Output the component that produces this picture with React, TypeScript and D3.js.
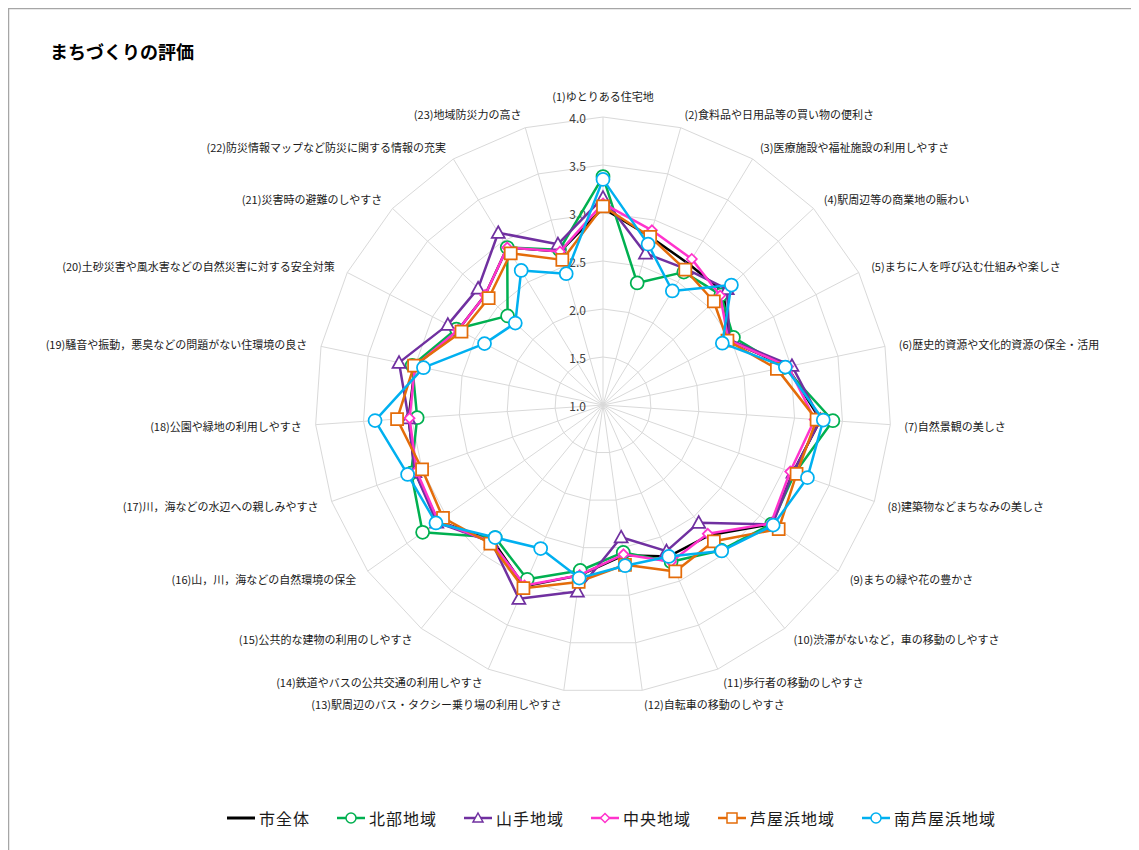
import React from 'react';
import * as d3 from 'd3';

const title = 'まちづくりの評価';

const categories = [
  '(1)ゆとりある住宅地',
  '(2)食料品や日用品等の買い物の便利さ',
  '(3)医療施設や福祉施設の利用しやすさ',
  '(4)駅周辺等の商業地の賑わい',
  '(5)まちに人を呼び込む仕組みや楽しさ',
  '(6)歴史的資源や文化的資源の保全・活用',
  '(7)自然景観の美しさ',
  '(8)建築物などまちなみの美しさ',
  '(9)まちの緑や花の豊かさ',
  '(10)渋滞がないなど，車の移動のしやすさ',
  '(11)歩行者の移動のしやすさ',
  '(12)自転車の移動のしやすさ',
  '(13)駅周辺のバス・タクシー乗り場の利用しやすさ',
  '(14)鉄道やバスの公共交通の利用しやすさ',
  '(15)公共的な建物の利用のしやすさ',
  '(16)山，川，海などの自然環境の保全',
  '(17)川，海などの水辺への親しみやすさ',
  '(18)公園や緑地の利用しやすさ',
  '(19)騒音や振動，悪臭などの問題がない住環境の良さ',
  '(20)土砂災害や風水害などの自然災害に対する安全対策',
  '(21)災害時の避難のしやすさ',
  '(22)防災情報マップなど防災に関する情報の充実',
  '(23)地域防災力の高さ',
];

const seriesNames = ['市全体', '北部地域', '山手地域', '中央地域', '芦屋浜地域', '南芦屋浜地域'];

const cityAll = [3.05, 2.82, 2.72, 2.72, 2.47, 2.96, 3.27, 3.10, 3.15, 2.75, 2.72, 2.58, 2.79, 3.06, 2.82, 3.10, 3.08, 3.03, 3.00, 2.70, 2.68, 2.92, 2.66];
const northArea = [3.38, 2.32, 2.62, 2.68, 2.53, 2.93, 3.40, 3.12, 3.15, 2.95, 2.78, 2.55, 2.74, 2.98, 2.78, 3.30, 3.12, 2.94, 3.03, 2.72, 2.36, 2.92, 2.68];
const yamateArea = [3.16, 2.64, 2.66, 2.77, 2.48, 3.01, 3.27, 3.10, 3.16, 2.58, 2.66, 2.39, 2.96, 3.20, 2.84, 3.12, 3.08, 3.03, 3.17, 2.82, 2.78, 3.10, 2.74];
const centralArea = [3.10, 2.89, 2.78, 2.67, 2.47, 2.97, 3.21, 3.07, 3.14, 2.73, 2.78, 2.57, 2.79, 3.05, 2.84, 3.10, 3.06, 3.02, 3.00, 2.70, 2.68, 2.92, 2.66];
const ashiyahamaArea = [3.07, 2.82, 2.65, 2.58, 2.46, 2.85, 3.23, 3.14, 3.24, 2.83, 2.89, 2.68, 2.86, 3.08, 2.86, 3.04, 3.00, 3.15, 3.01, 2.66, 2.63, 2.85, 2.57];
const southAshiyahamaArea = [3.35, 2.74, 2.39, 2.83, 2.40, 2.94, 3.30, 3.26, 3.17, 2.96, 2.72, 2.69, 2.82, 2.63, 2.78, 3.13, 3.16, 3.38, 2.91, 2.39, 2.25, 2.64, 2.42];

const seriesValues = [cityAll, northArea, yamateArea, centralArea, ashiyahamaArea, southAshiyahamaArea];
const seriesColors = ['#000000', '#00B050', '#7030A0', '#FF33CC', '#E46C0A', '#00B0F0'];
const seriesMarkers = ['none', 'circle', 'triangle', 'diamond', 'square', 'circle'];

const tickValues = [1.0, 1.5, 2.0, 2.5, 3.0, 3.5, 4.0];

const FONT = '"Noto Sans CJK JP", "Noto Sans", sans-serif';

function markerPath(type: string, x: number, y: number, s: number): string | null {
  if (type === 'circle') {
    const r = s / 2;
    return `M${x - r},${y}a${r},${r} 0 1,0 ${2 * r},0a${r},${r} 0 1,0 ${-2 * r},0Z`;
  }
  if (type === 'square') {
    const h = s / 2;
    return `M${x - h},${y - h}h${s}v${s}h${-s}Z`;
  }
  if (type === 'triangle') {
    const h = s / 2;
    return `M${x},${y - h}L${x + h},${y + h * 0.8}L${x - h},${y + h * 0.8}Z`;
  }
  if (type === 'diamond') {
    const h = s / 2;
    return `M${x},${y - h}L${x + h},${y}L${x},${y + h}L${x - h},${y}Z`;
  }
  return null;
}

const markerSize: Record<string, number> = { circle: 13, square: 12, triangle: 13, diamond: 10 };

export default function App() {
  const W = 1131;
  const H = 842;
  const cx = 603;
  const cy = 405;
  const rScale = d3.scaleLinear().domain([1, 4]).range([0, 288]);
  const n = categories.length;
  const angle = (i: number) => (i * 2 * Math.PI) / n;
  const px = (i: number, v: number) => cx + rScale(v) * Math.sin(angle(i));
  const py = (i: number, v: number) => cy - rScale(v) * Math.cos(angle(i));

  const ringLine = d3
    .lineRadial<number>()
    .angle((_, i) => angle(i))
    .radius((d) => rScale(d))
    .curve(d3.curveLinearClosed);

  const labelR = 302;

  // legend layout
  const legendY = 818;
  const lineLen = 28;
  const legFont = 16;
  const legLS = 1;
  const charW = legFont + legLS;
  let lx = 227;
  const legendItems = seriesNames.map((name, k) => {
    const item = { name, k, x: lx };
    lx += lineLen + 4 + name.length * charW + 27;
    return item;
  });

  return (
    <svg width={W} height={H} style={{ display: 'block' }} fontFamily={FONT}>
      <g transform="translate(-8,-8)">
        <rect x={8.5} y={8.5} width={1127} height={950} fill="#fff" stroke="#a6a6a6" strokeWidth={1.5} />
        <text x={50} y={59} fontSize={18} fontWeight="bold" fill="#000">
          {title}
        </text>

        {/* grid rings */}
        <g transform={`translate(${cx},${cy})`}>
          {tickValues.slice(1).map((t) => (
            <path key={t} d={ringLine(categories.map(() => t)) || ''} fill="none" stroke="#d9d9d9" strokeWidth={1} />
          ))}
        </g>
        {/* spokes */}
        {categories.map((c, i) => (
          <line key={c} x1={cx} y1={cy} x2={px(i, 4)} y2={py(i, 4)} stroke="#d9d9d9" strokeWidth={1} />
        ))}

        {/* tick labels */}
        {tickValues.map((t) => (
          <text
            key={t}
            x={cx - 17}
            y={cy - rScale(t)}
            textAnchor="end"
            dominantBaseline="central"
            fontSize={12}
            fill="#404040"
          >
            {t.toFixed(1)}
          </text>
        ))}

        {/* category labels */}
        {categories.map((c, i) => {
          const s = Math.sin(angle(i));
          const co = Math.cos(angle(i));
          const vertical = Math.abs(s) < 0.05;
          const x = cx + labelR * s;
          let y = cy - labelR * co;
          if (vertical) y += co > 0 ? -7 : 7;
          const anchor = vertical ? 'middle' : s > 0 ? 'start' : 'end';
          return (
            <text key={c} x={x} y={y} textAnchor={anchor} dominantBaseline="central" fontSize={11} fill="#1a1a1a">
              {c}
            </text>
          );
        })}

        {/* series */}
        {seriesValues.map((vals, k) => (
          <g key={seriesNames[k]}>
            <path
              transform={`translate(${cx},${cy})`}
              d={ringLine(vals) || ''}
              fill="none"
              stroke={seriesColors[k]}
              strokeWidth={2.5}
              strokeLinejoin="round"
            />
            {seriesMarkers[k] !== 'none' &&
              vals.map((v, i) => (
                <path
                  key={i}
                  d={markerPath(seriesMarkers[k], px(i, v), py(i, v), markerSize[seriesMarkers[k]]) || ''}
                  fill="#fff"
                  stroke={seriesColors[k]}
                  strokeWidth={1.75}
                />
              ))}
          </g>
        ))}

        {/* legend */}
        {legendItems.map((it) => {
          const col = seriesColors[it.k];
          const m = seriesMarkers[it.k];
          const mx = it.x + lineLen / 2;
          return (
            <g key={it.name}>
              <line x1={it.x} y1={legendY} x2={it.x + lineLen} y2={legendY} stroke={col} strokeWidth={it.k === 0 ? 3 : 2.5} />
              {m !== 'none' && (
                <path d={markerPath(m, mx, legendY, m === 'diamond' ? 9 : 10) || ''} fill="#fff" stroke={col} strokeWidth={1.5} />
              )}
              <text
                x={it.x + lineLen + 4}
                y={legendY}
                dominantBaseline="central"
                fontSize={legFont}
                letterSpacing={legLS}
                fill="#1a1a1a"
              >
                {it.name}
              </text>
            </g>
          );
        })}
      </g>
    </svg>
  );
}
